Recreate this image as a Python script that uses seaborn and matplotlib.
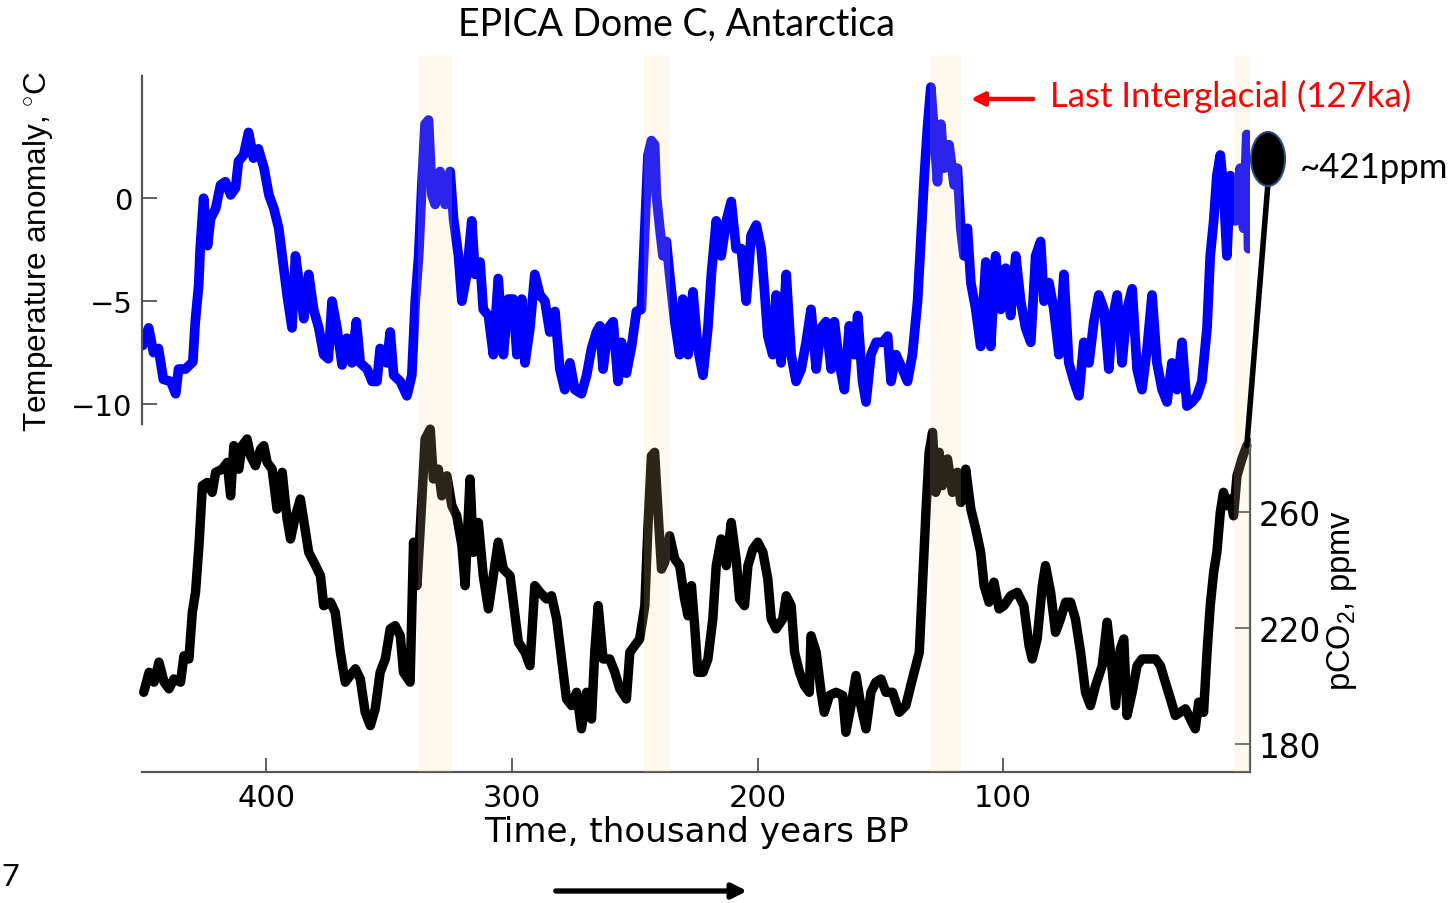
import numpy as np
import pandas as pd
import seaborn as sns
import matplotlib
matplotlib.use("Agg")
import matplotlib.pyplot as plt
from matplotlib.patches import Ellipse, FancyArrowPatch, ConnectionPatch

# ---------------- data ----------------
temp_ka = [450.5, 448, 446, 444, 442, 439, 437, 435.8, 433, 430, 429, 427.6, 427, 425.6, 424, 422.8, 420.7, 418.7,
           416.7, 414.6, 412.6, 411.4, 409.3, 407.3, 405.3, 403.3, 401, 399, 397, 395, 393.6, 391.6, 389.6, 388.2,
           386, 384.8, 382.8, 380.8, 378.7, 376.7, 374.8, 373.3, 371.3, 369.2, 367.2, 365.2, 363.4, 361.8, 359, 357,
           355, 353.7, 351, 349.6, 348.2, 345.5, 342.8, 340.8, 339.4, 338, 336.7, 335.4, 334, 332.6, 331.3, 329.3,
           327.2, 325.2, 323.8, 321.8, 320.4, 318.4, 316.4, 315, 313, 311.7, 309.6, 307.6, 305.6, 303.5, 301.5,
           299.5, 298, 296, 294.7, 292.7, 290.7, 288.6, 286.6, 284.6, 282.5, 280.5, 278.5, 276.4, 274.4, 271.7,
           269.6, 267.6, 265.6, 264.2, 262.9, 260.8, 258.8, 256.8, 255.4, 253.4, 251.3, 249.3, 247.3, 245.9, 244.6,
           243.2, 241.9, 241.2, 239.8, 238.5, 237.1, 235.8, 233.7, 231.7, 230.4, 228.3, 226.3, 224.3, 222.2, 220.2,
           218.8, 216.8, 214.8, 212.7, 210.7, 208.7, 206.6, 204.6, 202.6, 200.5, 198.5, 197.2, 195.8, 193.8, 192.4,
           190.4, 188.3, 186.3, 184.3, 182.2, 180.2, 178.2, 176.1, 174.1, 172.1, 170, 168.7, 166.7, 164.6, 162.6,
           160.6, 159.2, 157.2, 155.8, 153.8, 151.7, 149, 147, 145.6, 143.6,
           141, 138.9, 136.9, 134.8, 133.5, 132.1, 130.8, 129.4, 128, 126.7, 125.3, 124, 122, 119.9, 118.6, 117.2,
           115.9, 114.5, 113.1, 111.1, 109.1, 107, 105, 103, 100.9, 98.9, 96.9, 94.8, 92.8, 90.8, 88.7, 86.7, 84.7,
           83.3, 81.3, 79.3, 77.2, 75.2, 73.2, 71.1, 69.1, 67.1, 65, 63, 61, 58.9, 56.9, 55.6, 53.5, 51.5, 49.5,
           47.4, 45.4, 43.4, 41.3, 39.3, 37.3, 35.2, 33.2, 31.2, 29.1, 27.1, 25.1, 23, 21, 19, 16.9, 15.6, 14.2,
           12.9, 11.5, 10.2, 8.8, 7.4, 5.4, 3.4, 2.0, 0.7, 0]
temp_anom = [-7.16, -6.3, -7.5, -7.3, -8.8, -8.9, -9.5, -8.3, -8.3, -7.95, -6.0, -4.2, -2.45, 0.0, -2.3, -1.0, -0.5,
             0.65, 0.8, 0.16, 0.5, 1.8, 2.1, 3.2, 1.95, 2.4, 1.46, 0.16, -0.5, -1.46, -2.8, -4.7, -6.3, -2.8, -4.7,
             -5.85, -3.7, -5.4, -6.3, -7.6, -7.8, -5.0, -6.3, -8.1, -6.8, -8.0, -6.0, -8.0, -8.3, -8.9, -8.9, -7.3,
             -8.0, -6.5, -8.6, -8.9, -9.6, -8.6, -5.0, -2.8, 0.65, 3.6, 3.8, 0.16, -0.3, 1.3, -0.3, 1.3, -1.0, -2.8,
             -5.0, -3.7, -1.1, -3.7, -3.1, -5.4, -5.7, -7.6, -3.9, -7.6, -4.9,
             -4.9, -7.6, -4.9, -8.0, -6.3, -3.7, -4.7, -5.0, -6.5, -5.5, -8.3, -9.3, -8.0, -9.3, -9.5, -8.6, -7.3,
             -6.5, -6.2, -8.3, -6.3, -6.0, -8.9, -7.0, -8.5, -7.2, -5.5, -5.4, -1.46, 2.1, 2.8, 2.6, 0.16, -1.46,
             -2.8, -2.1, -3.7, -6.0, -7.6, -4.9, -7.6, -4.55, -7.3, -8.6, -6.3, -3.7, -1.1, -2.8, -1.1, -0.16, -2.45,
             -2.45, -5.0, -1.8, -1.3, -2.45, -4.4, -6.7, -7.6, -4.7, -8.0, -3.7, -7.6, -8.9, -8.3, -7.0, -5.4, -8.3,
             -6.3, -6.0, -8.3, -6.0, -8.0, -9.3, -6.2, -7.6, -5.7, -8.9, -9.9, -7.6, -7.0, -7.0, -6.7, -8.9, -7.6,
             -8.3, -8.9, -7.6, -5.0, -2.1, 0.98, 3.4, 5.4, 3.1, 0.8, 3.6, 1.46, 2.6, 0.65, 1.46, -1.46, -2.8, -1.46,
             -4.1, -5.4, -7.2, -3.1, -7.2, -2.8, -5.4, -3.4, -5.7, -2.8, -5.0, -6.3, -7.0, -2.8, -2.1, -5.0, -4.1,
             -5.4, -7.6, -3.7, -8.0, -8.9, -9.6, -7.0, -8.0, -6.0, -4.7, -5.4, -8.3, -6.0, -4.7, -8.0, -5.4, -4.4,
             -8.3, -9.3, -7.3, -4.7, -8.0, -9.3, -9.9, -8.0, -9.3, -7.0, -10.1, -9.9, -9.6, -8.9, -6.3, -2.8, -1.1,
             1.1, 2.1, 0.5, -2.8, 1.1, -1.1, 1.46, -1.46, 3.1, -2.45]

co2_ka = [450, 447.8, 445.8, 443.8, 441.7, 439.7, 437.7, 435, 433.6, 431.6, 430.2, 428.9, 427.5, 426.1, 424.1,
          422.1, 420.7, 418, 416, 414.6, 413.3, 411.3, 409.9, 407.9, 406.5, 404.5, 402.4, 401.1, 399.7, 397.7,
          395.7, 393.6, 391.6, 390.2, 388.2, 386.2, 384.1, 382.8, 380, 378, 376.7, 373.9, 372, 369.9, 367.9, 365.9,
          363.8, 361.8, 359.8, 357.7, 355.7, 353.7, 351.6, 349.6, 347.6, 345.5, 344.2, 341.5, 340.1, 338.7, 336.7,
          335.4, 333.3, 332, 330, 328.6, 326.5, 324.5, 322.5, 320.4, 319.1, 317.1, 315.7, 313.7, 311.7, 309.6,
          307.6, 305.6, 303.5, 300.8,
          297.4, 294.7, 292.7, 290.7, 288.6, 285.9, 283.9, 281.8, 279.8, 277.8, 275.7, 273.7, 271.7, 269.6, 267.6,
          266.3, 264.9, 262.9, 260.2, 258.1, 256.1, 253.4, 252, 250, 248, 245.9, 244.6, 243.2, 241.9, 240.5, 239.1,
          237.8, 235.8, 233.7, 231.7, 229.7, 228.3, 226.9, 225.6, 224.3, 222.2, 220.2, 218.2, 216.8, 214.8, 212.7,
          210.7, 208.7, 207.3, 205.3, 203.9, 201.9, 199.9, 197.8, 195.8, 194.4, 192.4, 189.7, 188.3, 186.3, 184.9,
          182.9, 180.9, 178.9, 178.2, 176.1, 174.1, 172.8, 170.7, 168, 165.3, 164, 161.9, 159.9, 157.9, 155.8,
          153.8, 151.8, 149.7, 147.7,
          145, 142.3, 139.6, 136.9, 134.1, 132.8, 131.4, 130.1, 128.7, 127.4, 126, 124.7, 122.6, 120.6, 118.6,
          117.2, 115.2, 113.1, 111.1, 109.1, 107.7, 105.7, 103.7, 101.6, 99.6, 96.9, 94.2, 91.5, 89.4, 88.1, 86.1,
          84, 82.7, 80.6, 78.6, 76.6, 74.5, 72.5, 70.5, 68.4, 66.4, 64.4, 62.3, 59.6, 57.6, 56.2, 54.2, 52.2, 50.8,
          49.5, 47.4, 45.4, 43.4, 40.7, 37.9, 35.9, 33.9, 31.8, 29.8, 27.8, 25.7, 23.7, 21.7, 20.3, 18.3, 16.9,
          15.6, 14.2, 12.9, 11.5, 10.2, 8.8, 7.4, 6.1, 4.7, 2.7, 0.7]
co2_ppm = [197.8, 204.7, 201.3, 208.2, 201.3, 199, 202.4, 201.3, 210.4, 209.3, 225.4, 232.3, 248.4, 269.1, 270.2,
           266.8, 273.7, 274.8, 277.1, 265.6, 282.9, 274.8, 282.9, 285.2, 279.4, 276, 281.7, 282.9, 277.1, 274.8,
           261, 273.7, 257.6, 250.7, 258.7, 264.5, 253, 246.1, 241.5, 238, 227.7, 228.9, 225.4, 211.6, 201.3, 203.6,
           205.9, 202.4, 190.9, 186.3, 192.1, 204.7, 209.3, 219.7, 220.8, 217.3, 204.7, 201.3, 249.6, 234.6, 264.5,
           285.2, 288.6, 271.4, 274.8, 265.6, 272.5, 262.2, 258.7, 248.4, 234.6, 271.4, 246.1, 256.4, 238, 226.6,
           238, 249.6, 240.3, 238,
           215.1, 211.6, 207, 234.6, 232.3, 230, 231.1, 223.1, 209.3, 195.5, 193.2, 197.8, 185.2, 197.8, 188.6,
           211.6, 227.7, 209.3, 209.3, 204.7, 199, 195.5, 211.6, 213.9, 216.2, 227.7, 255.3, 279.4, 280.6, 259.9,
           240.3, 242.7, 251.8, 243.8, 241.5, 230, 224.2, 234.6, 220.8, 204.7, 204.7, 209.3, 223.1, 241.5, 250.7,
           241.5, 256.4, 243.8, 230, 227.7, 241.5, 247.2, 249.6, 246.1, 236.9, 223.1, 219.7, 223.1, 231.1, 227.7,
           211.6, 204.7, 200.1, 197.8, 217.3, 211.6, 197.8, 190.9, 196.7, 197.8, 196.7, 184, 193.2, 203.6, 193.2,
           185.2, 197.8, 201.3, 202.4, 197.8,
           197.8, 190.9, 193.2, 202.4, 211.6, 234.6, 259.9, 280.6, 287.5, 266.8, 280.6, 269.1, 278.3, 266.8, 273.7,
           263.3, 274.8, 261, 254.1, 246.1, 234.6, 228.9, 235.8, 226.6, 227.7, 231.1, 232.3, 227.7, 213.9, 209.3,
           216.2, 234.6, 241.5, 232.3, 218.5, 223.1, 228.9, 228.9, 223.1, 211.6, 197.8, 193.2, 200.1, 207, 222,
           211.6, 193.2, 212.8, 216.2, 189.8, 197.8, 207, 209.3, 209.3, 209.3, 207, 201.3, 195.5, 189.8, 190.9,
           192.1, 188.6, 185.2, 194.4, 190.9, 211.6, 227.7, 239.2, 246.1, 259.9, 266.8, 262.2, 264.5, 258.7, 272.5,
           278.3, 282.9]

band_start = [338.2, 246.1, 129.8, 5.8]
band_end = [324.6, 235.7, 117.3, -0.6]

x_ticks = [400, 300, 200, 100]
temp_ticks = [0, -5, -10]
co2_ticks = [180, 220, 260]

title_text = "EPICA Dome C, Antarctica"
interglacial_text = "Last Interglacial (127ka)"
today_text = "~421ppm"

# ---------------- style ----------------
sns.set_theme(style="white")
plt.rcParams["font.family"] = ["Liberation Sans", "DejaVu Sans"]
plt.rcParams["mathtext.fontset"] = "custom"
plt.rcParams["mathtext.rm"] = "Liberation Sans"
plt.rcParams["mathtext.it"] = "Liberation Sans:italic"
plt.rcParams["axes.unicode_minus"] = True
plt.rcParams["axes.labelcolor"] = "black"

W, H = 1454, 904
fig = plt.figure(figsize=(W / 100, H / 100), dpi=100)
fig.patch.set_facecolor("white")


def fx(px):
    return px / W


def fy(py):
    return 1 - py / H


XLIM = (450.7, -0.6)
SPINE = "#555555"
TICKFONT = ["DejaVu Sans"]

# CO2 axes (bottom)
ax_c = fig.add_axes([fx(142), fy(773), fx(1250) - fx(142), fy(420) - fy(773)])
# temperature axes (top)
ax_t = fig.add_axes([fx(142), fy(425), fx(1250) - fx(142), fy(77) - fy(425)])

for ax in (ax_c, ax_t):
    ax.set_facecolor("none")
    ax.set_xlim(*XLIM)
    for s in ax.spines.values():
        s.set_visible(False)

df_t = pd.DataFrame({"ka": temp_ka, "T": temp_anom})
df_c = pd.DataFrame({"ka": co2_ka, "co2": co2_ppm})

sns.lineplot(data=df_t, x="ka", y="T", ax=ax_t, color="#0000FF", lw=7,
             sort=False, estimator=None)
sns.lineplot(data=df_c, x="ka", y="co2", ax=ax_c, color="black", lw=6.8,
             sort=False, estimator=None)
for ln in ax_c.get_lines():
    ln.set_clip_on(False)

ax_t.set_ylim(-10.97, 5.94)
ax_c.set_ylim(170.3, 292.1)

# temperature axis styling
ax_t.spines["left"].set_visible(True)
ax_t.spines["left"].set_color(SPINE)
ax_t.spines["left"].set_linewidth(1.6)
ax_t.set_yticks(temp_ticks)
ax_t.set_xticks([])
ax_t.tick_params(axis="y", direction="in", length=11, width=1.3, color=SPINE,
                 labelsize=21, pad=7, left=True, labelcolor="black")
for lab in ax_t.get_yticklabels():
    lab.set_family(TICKFONT)
ax_t.set_xlabel("")
ax_t.set_ylabel("Temperature anomaly, $^{\\circ}$C", fontsize=22.7, color="black")
ax_t.yaxis.set_label_coords((55 - 142) / 1108, 0.5)

# CO2 axis styling
ax_c.spines["right"].set_visible(True)
ax_c.spines["bottom"].set_visible(True)
for s in ("right", "bottom"):
    ax_c.spines[s].set_color(SPINE)
    ax_c.spines[s].set_linewidth(1.6)
ax_c.spines["right"].set_bounds(170.3, 285.2)
ax_c.yaxis.tick_right()
ax_c.yaxis.set_label_position("right")
ax_c.set_yticks(co2_ticks)
ax_c.set_xticks(x_ticks)
ax_c.tick_params(axis="y", direction="in", length=11, width=1.3, color=SPINE,
                 labelsize=23.5, pad=6, right=True, left=False, labelcolor="black")
ax_c.tick_params(axis="x", direction="in", length=10, width=1.3, color=SPINE,
                 labelsize=22, pad=8, bottom=True, labelcolor="black")
for lab in ax_c.get_yticklabels() + ax_c.get_xticklabels():
    lab.set_family(TICKFONT)
ax_c.set_xlabel("Time, thousand years BP", fontsize=24.6, labelpad=2,
                family=TICKFONT, color="black")
ax_c.set_ylabel("pCO$_2$, ppmv", fontsize=23.5, color="black")
ax_c.yaxis.set_label_coords((1325 - 142) / 1108, (773 - 601) / 353)

# interglacial bands, overlaid semi-transparently
ax_b = fig.add_axes([fx(142), fy(773), fx(1250) - fx(142), fy(57) - fy(773)])
ax_b.set_xlim(*XLIM)
ax_b.set_ylim(0, 1)
ax_b.axis("off")
ax_b.set_facecolor("none")
for b0, b1 in zip(band_start, band_end):
    ax_b.axvspan(b0, b1, color="#FAD796", alpha=0.17, lw=0)

# ---------------- slide annotations ----------------
CAL = ["Lato", "DejaVu Sans"]
fig.text(fx(676), fy(25), title_text, ha="center", va="center", fontsize=27,
         family=CAL, color="black")
fig.text(fx(1050), fy(96), interglacial_text, ha="left", va="center",
         fontsize=25, family=CAL, color="#FF0000")
fig.add_artist(FancyArrowPatch((fx(1036), fy(100)), (fx(968), fy(100)),
                               transform=fig.transFigure, arrowstyle="-|>",
                               mutation_scale=20, lw=3.2, color="#FF0000"))

# today's CO2 marker
con = ConnectionPatch(xyA=(co2_ka[-1], co2_ppm[-1]), coordsA=ax_c.transData,
                      xyB=(fx(1268), fy(184)), coordsB=fig.transFigure,
                      color="black", lw=4)
fig.add_artist(con)
fig.add_artist(Ellipse((fx(1268), fy(160)), 34 / W, 54 / H, transform=fig.transFigure,
                       facecolor="black", edgecolor="#2F4A75", lw=1.5))
fig.text(fx(1300), fy(168), today_text, ha="left", va="center", fontsize=25,
         family=CAL, color="black")

# slide number and bottom arrow
fig.text(fx(1), fy(877), "7", ha="left", va="center", fontsize=22,
         family=CAL, color="black")
fig.add_artist(FancyArrowPatch((fx(553), fy(892)), (fx(750), fy(892)),
                               transform=fig.transFigure, arrowstyle="-|>",
                               mutation_scale=22, lw=3.8, color="black"))

fig.savefig("out.png", dpi=100)
